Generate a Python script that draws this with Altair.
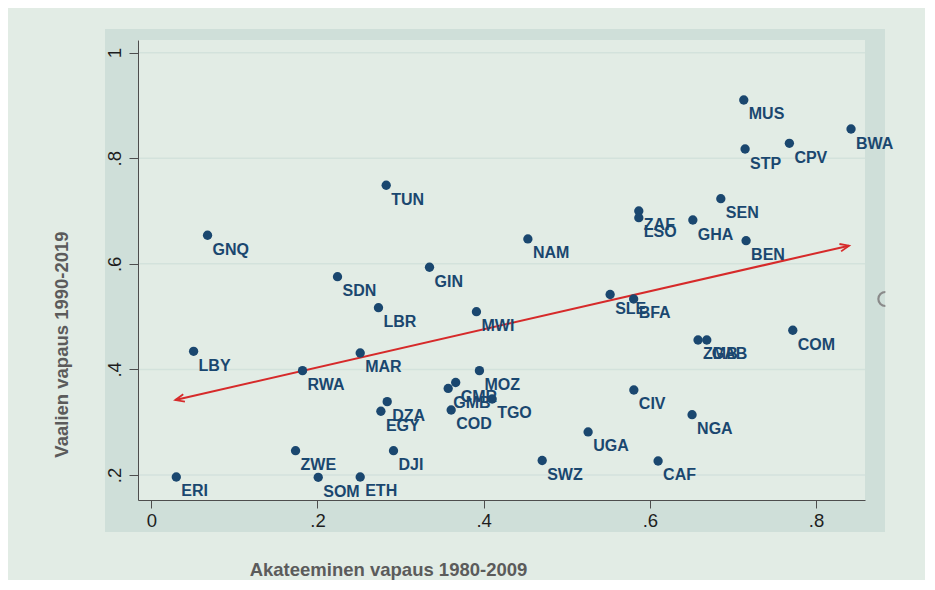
import math
import altair as alt
import pandas as pd

# ---- data ----
countries = ["ERI", "SOM", "ETH", "ZWE", "DJI", "SWZ", "UGA", "CAF", "NGA", "CIV",
             "EGY", "DZA", "COD", "GMB", "CMR", "TGO", "MOZ", "RWA", "MAR", "LBY",
             "LBR", "MWI", "SDN", "GIN", "GNQ", "TUN", "NAM", "SLE", "BFA", "ZAF",
             "LSO", "GHA", "SEN", "BEN", "STP", "CPV", "MUS", "BWA", "ZMB", "GAB",
             "COM"]
academic = [0.0301, 0.2009, 0.2514, 0.1736, 0.2915, 0.4704, 0.5257, 0.6099, 0.6508, 0.5807,
            0.2763, 0.2839, 0.3609, 0.3573, 0.3663, 0.4102, 0.3949, 0.1820, 0.2514, 0.0509,
            0.2734, 0.3913, 0.2241, 0.3348, 0.0677, 0.2827, 0.4532, 0.5522, 0.5805, 0.5867,
            0.5867, 0.6517, 0.6854, 0.7158, 0.7146, 0.7679, 0.7130, 0.8421, 0.6580, 0.6685,
            0.7720]
electoral = [0.1962, 0.1956, 0.1962, 0.2460, 0.2460, 0.2275, 0.2815, 0.2265, 0.3142, 0.3610,
             0.3207, 0.3389, 0.3231, 0.3639, 0.3752, 0.3440, 0.3976, 0.3976, 0.4311, 0.4343,
             0.5169, 0.5093, 0.5756, 0.5935, 0.6541, 0.7488, 0.6471, 0.5419, 0.5334, 0.7001,
             0.6874, 0.6830, 0.7234, 0.6438, 0.8175, 0.8283, 0.9104, 0.8554, 0.4557, 0.4557,
             0.4741]

tick_x = [0, 0.2, 0.4, 0.6, 0.8]
tick_y = [0.2, 0.4, 0.6, 0.8, 1.0]

# fitted-line arrow end points
arrow_x = [0.0289, 0.8397]
arrow_y = [0.3420, 0.6344]

# partly hidden hollow marker at the right edge
ring_x = [0.8834]
ring_y = [0.5334]

x_title = "Akateeminen vapaus 1980-2009"
y_title = "Vaalien vapaus 1990-2019"

# ---- styling ----
W, H = 727, 460
XD = [-0.016, 0.8589]
YD = [0.1526, 1.024]
BG = "#e2ece5"
PANEL = "#cfdfd9"
GRID = "#d3e2dc"
NAVY = "#1a476f"
RED = "#d62a2a"
AX = "#4d4d4d"
FONT = "Liberation Sans"

pts = pd.DataFrame({"code": countries, "ac": academic, "el": electoral})
arr = pd.DataFrame({"ac": arrow_x, "el": arrow_y})
grid = pd.DataFrame({"el": tick_y})
ring = pd.DataFrame({"ac": ring_x, "el": ring_y})
one = pd.DataFrame({"a": [0]})

xs = alt.Scale(domain=XD, nice=False, zero=False)
ys = alt.Scale(domain=YD, nice=False, zero=False)

lab_expr = ("datum.value == 0 ? '0' : datum.value == 1 ? '1' : "
            "replace(format(datum.value, '.1f'), '0.', '.')")

x_axis = alt.Axis(values=tick_x, labelExpr=lab_expr, title=x_title, grid=False,
                  domainColor=AX, tickColor=AX, domainWidth=1, tickWidth=1, tickSize=8,
                  labelFont=FONT, labelFontSize=18.5, labelColor="#1e1e1e",
                  labelPadding=18.5, labelBaseline="alphabetic", labelAlign="center",
                  labelFlush=False, labelOverlap=False,
                  titleFont=FONT, titleFontSize=18.5, titleFontWeight="bold",
                  titleColor="#5b5b5b", titleX=250, titleY=75, titleAlign="center",
                  titleBaseline="alphabetic", zindex=1)
y_axis = alt.Axis(values=tick_y, labelExpr=lab_expr, title=y_title, grid=False,
                  domainColor=AX, tickColor=AX, domainWidth=1, tickWidth=1, tickSize=9,
                  labelFont=FONT, labelFontSize=18.5, labelColor="#1e1e1e",
                  labelAngle=270, labelAlign="center", labelBaseline="alphabetic",
                  labelPadding=9, labelFlush=False, labelOverlap=False,
                  titleFont=FONT, titleFontSize=18.5, titleFontWeight="bold",
                  titleColor="#5b5b5b", titleAngle=270, titleX=-71, titleY=304,
                  titleAlign="center", titleBaseline="alphabetic", zindex=1)


def X():
    return alt.X("ac:Q", scale=xs, axis=x_axis)


def Y():
    return alt.Y("el:Q", scale=ys, axis=y_axis)


# angle of the fitted line in pixel space (for arrow heads)
dxp = (arrow_x[1] - arrow_x[0]) / (XD[1] - XD[0]) * W
dyp = -(arrow_y[1] - arrow_y[0]) / (YD[1] - YD[0]) * H
ang = math.degrees(math.atan2(dyp, dxp)) % 360

panel = alt.Chart(one).mark_rect(color=PANEL, clip=False).encode(
    x=alt.value(-33), x2=alt.value(W + 20), y=alt.value(-11), y2=alt.value(H + 32))
plotbg = alt.Chart(one).mark_rect(color=BG).encode(
    x=alt.value(0), x2=alt.value(W), y=alt.value(0), y2=alt.value(H))
gridl = alt.Chart(grid).mark_rule(color=GRID, strokeWidth=1.5).encode(y=Y())
line = alt.Chart(arr).mark_line(color=RED, strokeWidth=2).encode(x=X(), y=Y())
head_l = alt.Chart(arr.iloc[[0]]).mark_point(
    shape="M1,-0.42L0,0L1,0.42", size=324, filled=False, stroke=RED, strokeWidth=1.8,
    angle=ang, opacity=1).encode(x=X(), y=Y())
head_r = alt.Chart(arr.iloc[[1]]).mark_point(
    shape="M-1,-0.42L0,0L-1,0.42", size=324, filled=False, stroke=RED, strokeWidth=1.8,
    angle=ang, opacity=1).encode(x=X(), y=Y())
dots = alt.Chart(pts).mark_circle(size=87, color=NAVY, opacity=1).encode(x=X(), y=Y())
labels = alt.Chart(pts).mark_text(align="left", baseline="alphabetic", dx=5, dy=19.5,
                                  font=FONT, fontSize=16, fontWeight="bold", color=NAVY,
                                  clip=False).encode(
    x=X(), y=Y(), text="code:N")
ringm = alt.Chart(ring).mark_point(shape="M0,-1A1,1 0 0 0 0,1", size=196, filled=False,
                                   stroke="#8a8a8a", strokeWidth=2.2, opacity=1,
                                   clip=False).encode(x=X(), y=Y())

chart = alt.layer(panel, plotbg, gridl, line, head_l, head_r, dots, labels, ringm).properties(
    width=W, height=H,
    autosize=alt.AutoSizeParams(type="none"),
    padding={"left": 130, "top": 32, "right": 60, "bottom": 80},
    background=BG,
).configure_view(stroke=None)

chart.save("out.html", embed_options={"renderer": "svg", "actions": False})
